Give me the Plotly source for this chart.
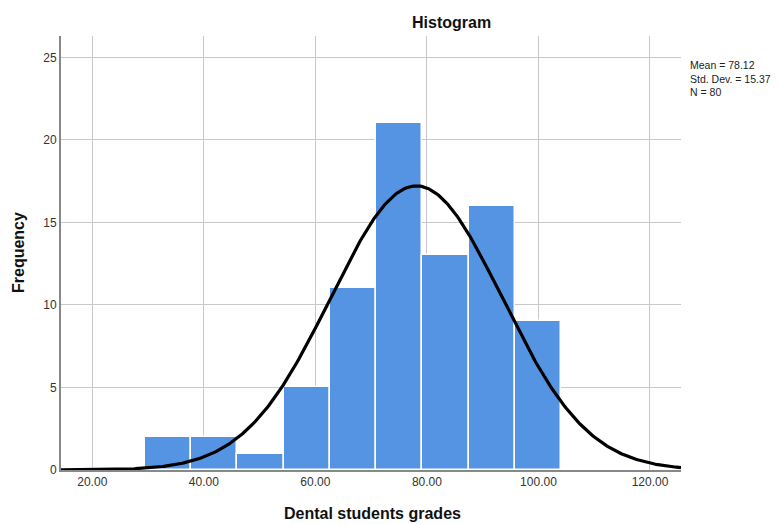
import numpy as np
import plotly.graph_objects as go

# Data
bin_start = 29.45
bin_width = 8.29
counts = [2, 2, 1, 5, 11, 21, 13, 16, 9]
mean_val = 78.12
std_val = 15.37
n_val = 80
x_ticks = [20, 40, 60, 80, 100, 120]
x_tick_labels = ["20.00", "40.00", "60.00", "80.00", "100.00", "120.00"]
y_ticks = [0, 5, 10, 15, 20, 25]

centers = [bin_start + bin_width * (i + 0.5) for i in range(len(counts))]

xr = (14.39, 125.56)
xc = np.linspace(xr[0], xr[1], 400)
yc = n_val * bin_width / (std_val * np.sqrt(2 * np.pi)) * np.exp(-0.5 * ((xc - mean_val) / std_val) ** 2)

fig = go.Figure()
fig.add_trace(go.Bar(
    x=centers, y=counts, width=bin_width,
    marker=dict(color="#5594E2", line=dict(color="white", width=1.5)),
    hoverinfo="x+y", showlegend=False,
))
fig.add_trace(go.Scatter(
    x=xc, y=yc, mode="lines", line=dict(color="black", width=3.2),
    showlegend=False, hoverinfo="skip",
))

W, H = 778, 524
L, R, T, B = 61, 97, 36, 54
pw, ph = W - L - R, H - T - B

def px(x):
    return (x - L) / pw

def py(y):
    return (H - B - y) / ph

font = "Liberation Sans, Arial, sans-serif"
fig.update_layout(
    width=W, height=H,
    margin=dict(l=L, r=R, t=T, b=B),
    paper_bgcolor="white", plot_bgcolor="white",
    font=dict(family=font, color="#222222", size=12),
    bargap=0,
    annotations=[
        dict(text="<b>Histogram</b>", xref="paper", yref="paper", x=px(451), y=py(22),
             xanchor="center", yanchor="middle", showarrow=False,
             font=dict(size=16, color="#111111", family=font)),
        dict(text="Mean = 78.12<br>Std. Dev. = 15.37<br>N = 80", xref="paper", yref="paper",
             x=px(688), y=py(57), xanchor="left", yanchor="top", align="left",
             showarrow=False, font=dict(size=10.5, color="#222222", family=font)),
        dict(text="<b>Dental students grades</b>", xref="paper", yref="paper", x=px(372), y=py(513),
             xanchor="center", yanchor="middle", showarrow=False,
             font=dict(size=16, color="#111111", family=font)),
        dict(text="<b>Frequency</b>", xref="paper", yref="paper", x=px(18), y=py(253),
             xanchor="center", yanchor="middle", showarrow=False, textangle=-90,
             font=dict(size=16, color="#111111", family=font)),
    ],
    xaxis=dict(
        range=list(xr), tickvals=x_ticks, ticktext=x_tick_labels,
        showgrid=True, gridcolor="#c8c8c8", gridwidth=1,
        showline=True, linecolor="#888888", linewidth=2,
        ticks="", zeroline=False, tickfont=dict(size=12, color="#333333"),
        automargin=False,
    ),
    yaxis=dict(
        range=[0, 26.3], tickvals=y_ticks,
        showgrid=True, gridcolor="#c8c8c8", gridwidth=1,
        showline=True, linecolor="#888888", linewidth=2,
        ticks="", zeroline=False, tickfont=dict(size=12, color="#333333"),
        automargin=False,
    ),
)

fig.write_html("out.html", config={"displayModeBar": False},
               post_script="document.body.style.margin='0';document.body.style.overflow='hidden';")
